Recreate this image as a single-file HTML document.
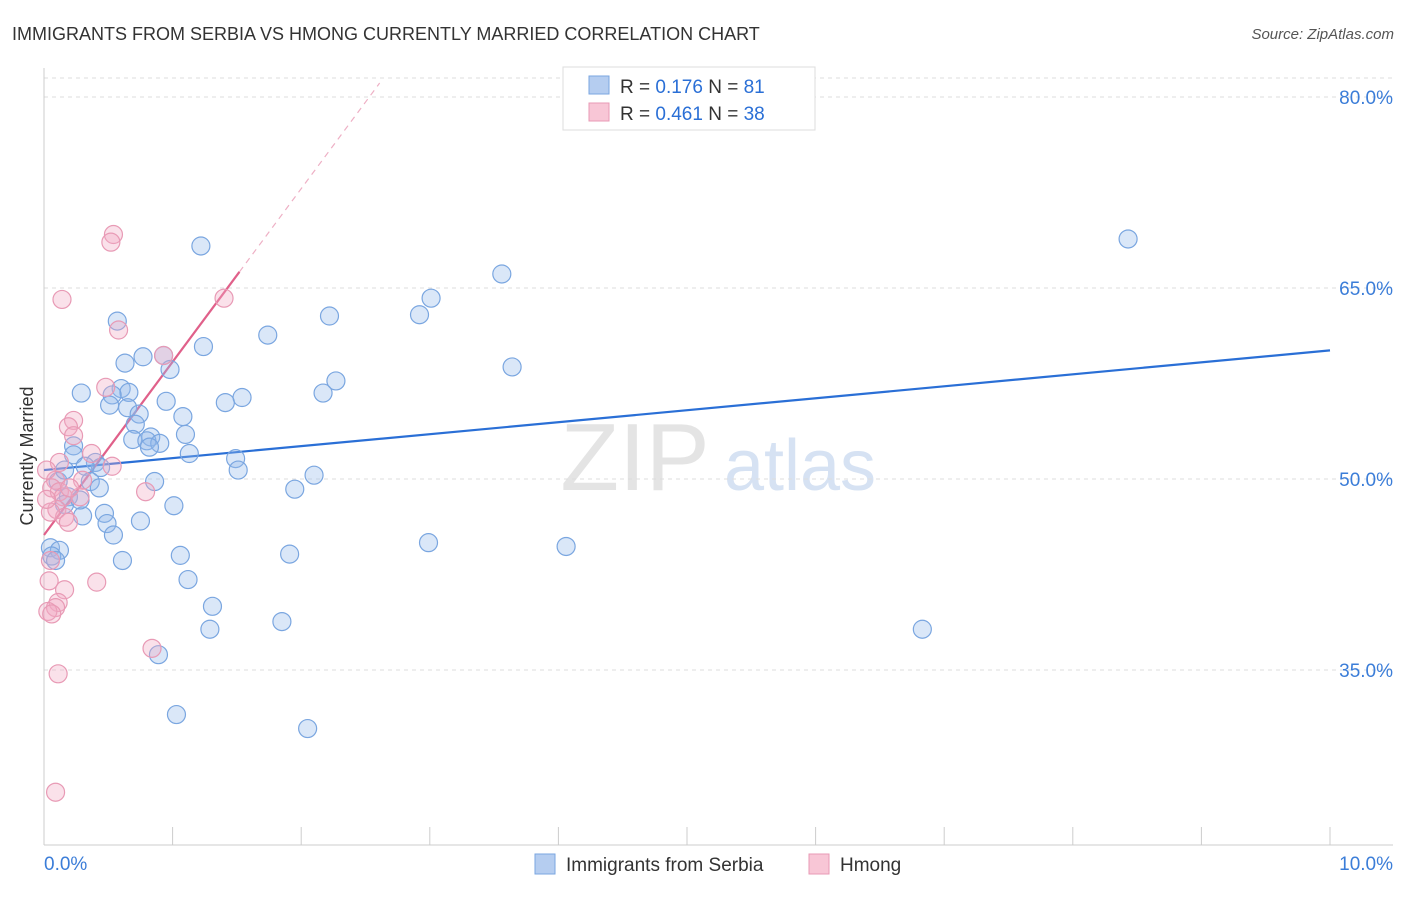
<!DOCTYPE html>
<html><head><meta charset="utf-8"><style>
body{margin:0;background:#fff;font-family:"Liberation Sans",sans-serif;}
svg text{font-family:"Liberation Sans",sans-serif;}
</style></head><body>
<svg id="chart" width="1406" height="892">
<text x="12" y="40" font-size="18" fill="#333">IMMIGRANTS FROM SERBIA VS HMONG CURRENTLY MARRIED CORRELATION CHART</text>
<text x="1394" y="39" font-size="15" fill="#555" font-style="italic" text-anchor="end">Source: ZipAtlas.com</text>
<text x="0" y="0" font-size="18" fill="#333" text-anchor="middle" transform="translate(33,456) rotate(-90)">Currently Married</text>
<g>
<text x="635" y="490" font-size="96" fill="#e4e4e4" font-family="Liberation Serif" text-anchor="middle">ZIP</text>
<text x="800" y="490" font-size="72" fill="#d6e2f3" text-anchor="middle">atlas</text>
</g>
<g id="grid"></g>
<g id="axes"></g>
<g id="trend"></g>
<g id="points"></g>
<g>
<rect x="563" y="67" width="252" height="63" fill="#fff" stroke="#ddd"/>
<rect x="589" y="76" width="20" height="18" fill="#b5cdf0" stroke="#7aa6e0"/>
<text x="620" y="93" font-size="19" fill="#333">R = <tspan fill="#2a6fd6">0.176</tspan>   N = <tspan fill="#2a6fd6">81</tspan></text>
<rect x="589" y="103" width="20" height="18" fill="#f8c6d6" stroke="#e89ab5"/>
<text x="620" y="120" font-size="19" fill="#333">R = <tspan fill="#2a6fd6">0.461</tspan>   N = <tspan fill="#2a6fd6">38</tspan></text>
</g>
<g>
<rect x="535" y="854" width="20" height="20" fill="#b5cdf0" stroke="#7aa6e0"/>
<text x="566" y="871" font-size="19" fill="#333">Immigrants from Serbia</text>
<rect x="809" y="854" width="20" height="20" fill="#f8c6d6" stroke="#e89ab5"/>
<text x="840" y="871" font-size="19" fill="#333">Hmong</text>
</g>
</svg>
<script>
const yTicks=[35,50,65,80];
const xTickLabels=["0.0%","10.0%"];
const serbiaX=[8.43,1.22,3.56,3.01,2.22,2.92,0.57,1.74,1.24,0.77,0.93,0.63,0.98,3.64,2.27,0.29,0.60,0.66,2.17,1.54,1.41,0.53,0.51,0.95,0.65,0.74,1.08,0.71,1.10,0.69,0.83,0.80,0.90,0.82,1.13,1.49,0.23,0.23,0.40,0.44,0.32,1.51,2.10,0.86,0.11,0.36,0.43,1.95,0.19,1.01,0.16,0.47,0.30,0.75,0.49,0.54,2.99,4.06,0.05,0.12,0.06,1.91,1.06,0.61,1.12,1.31,1.29,1.85,6.83,0.89,1.03,2.05,0.16,0.09,0.28];
const serbiaY=[68.85,68.3,66.1,64.2,62.8,62.9,62.4,61.3,60.4,59.6,59.7,59.1,58.6,58.8,57.7,56.75,57.1,56.8,56.75,56.4,56.0,56.6,55.8,56.1,55.6,55.1,54.9,54.3,53.5,53.1,53.3,53.0,52.8,52.5,52.0,51.6,52.6,51.9,51.3,50.9,51.0,50.7,50.3,49.8,49.8,49.8,49.3,49.2,48.6,47.9,48.0,47.3,47.1,46.7,46.5,45.6,45.0,44.7,44.6,44.4,43.95,44.1,44.0,43.6,42.1,40.0,38.2,38.8,38.2,36.2,31.5,30.4,50.7,43.6,48.35];
const hmongX=[0.54,0.52,0.14,0.58,1.40,0.93,0.48,0.23,0.19,0.23,0.37,0.12,0.53,0.30,0.09,0.06,0.12,0.15,0.28,0.79,0.10,0.16,0.19,0.05,0.41,0.16,0.11,0.09,0.03,0.06,0.04,0.11,0.84,0.09,0.02,0.02,0.20,0.05];
const hmongY=[69.2,68.6,64.1,61.7,64.2,59.7,57.2,54.6,54.1,53.4,52.0,51.3,51.0,49.9,49.9,49.3,49.0,48.6,48.6,49.0,47.6,47.0,46.6,47.4,41.9,41.3,40.3,39.9,39.6,39.4,42.0,34.7,36.7,25.4,48.4,50.7,49.3,43.6];
const serbiaTrend=[50.7,60.1];
const hmongTrend=[45.6,13.6];

const NS="http://www.w3.org/2000/svg";
const X=v=>44+v*128.6;
const Y=v=>97+(80-v)*12.733;
function mk(tag,attrs,parent){const e=document.createElementNS(NS,tag);for(const k in attrs)e.setAttribute(k,attrs[k]);document.getElementById(parent).appendChild(e);return e;}
// grid
mk('line',{x1:44,x2:1393,y1:78,y2:78,stroke:'#ddd','stroke-dasharray':'4,4'},'grid');
yTicks.forEach(t=>{
 const l=mk('line',{x1:44,x2:1393,y1:Y(t),y2:Y(t),stroke:'#ddd','stroke-dasharray':'4,4'},'grid');
 
 
 const tx=mk('text',{x:1393,y:Y(t)+7,'font-size':19,fill:'#3b7dd8','text-anchor':'end'},'grid');
 tx.textContent=t.toFixed(1)+'%';
 
 
});
// axes
mk('line',{x1:44,x2:44,y1:68,y2:845,stroke:'#ccc'},'axes');
mk('line',{x1:44,x2:1393,y1:845,y2:845,stroke:'#ccc'},'axes');
for(let i=1;i<=10;i++){mk('line',{x1:X(i),x2:X(i),y1:827,y2:845,stroke:'#ccc'},'axes');}
const xl0=mk('text',{x:44,y:870,'font-size':19,fill:'#3b7dd8'},'axes');xl0.textContent=xTickLabels[0];


const xl1=mk('text',{x:1393,y:870,'font-size':19,fill:'#3b7dd8','text-anchor':'end'},'axes');xl1.textContent=xTickLabels[1];


// points
function dots(xs,ys,fill,stroke,name){xs.forEach((x,i)=>{
 const c=mk('circle',{cx:X(x),cy:Y(ys[i]),r:9,fill:fill,stroke:stroke,'stroke-width':1.2},'points');
 
 
});}
dots(serbiaX,serbiaY,'rgba(150,185,235,0.35)','#7aa6e0','serbia-point');
dots(hmongX,hmongY,'rgba(240,170,195,0.35)','#e89ab5','hmong-point');
// trends
const bt=mk('line',{x1:X(0),y1:Y(serbiaTrend[0]),x2:X(10),y2:Y(serbiaTrend[1]),stroke:'#2a6fd6','stroke-width':2.2},'trend');


const pe=1.52,pd=2.61;
const pt=mk('line',{x1:X(0),y1:Y(hmongTrend[0]),x2:X(pe),y2:Y(hmongTrend[0]+hmongTrend[1]*pe),stroke:'#e0608a','stroke-width':2.2},'trend');


const pdl=mk('line',{x1:X(pe),y1:Y(hmongTrend[0]+hmongTrend[1]*pe),x2:X(pd),y2:Y(hmongTrend[0]+hmongTrend[1]*pd),stroke:'#eeb0c5','stroke-width':1.2,'stroke-dasharray':'6,5'},'trend');


</script>
</body></html>
